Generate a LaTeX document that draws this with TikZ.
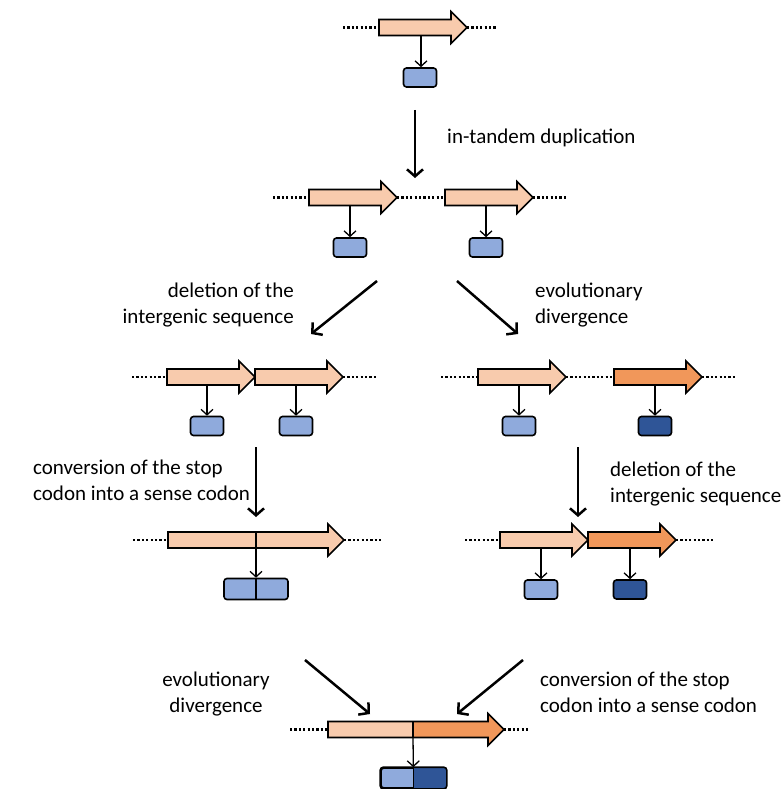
\documentclass[tikz,border=0pt]{standalone}
\usepackage{fontspec}
\setmainfont{Carlito}
\usetikzlibrary{arrows.meta}
\definecolor{peach}{HTML}{F8CBAD}
\definecolor{orng}{HTML}{F1975A}
\definecolor{lblue}{HTML}{8FAADC}
\definecolor{dblue}{HTML}{2F5597}
\tikzset{
  geneline/.style={draw=black, line width=1.6pt, line join=miter},
  dots/.style={line width=2.4pt, dash pattern=on 2.2pt off 2.2pt},
  prot/.style={draw=black, rounded corners=3pt, line width=1.6pt, minimum width=33pt, minimum height=19pt, inner sep=0pt, fill=lblue},
  dprot/.style={prot, fill=dblue},
  smallarr/.style={-{Straight Barb[length=5.5pt,width=12pt]}, line width=1.3pt},
  bigarr/.style={-{Straight Barb[length=7pt,width=16pt]}, line width=2.5pt},
  lab/.style={font=\fontsize{21}{26}\selectfont, inner sep=0pt, text=black}
}
% gene arrow: x0, yc, head base, tip, colour
\newcommand\genearrow[5]{%
  \filldraw[geneline, fill=#5] (#1,#2-8) -- (#3,#2-8) -- (#3,#2-16) -- (#4,#2) -- (#3,#2+16) -- (#3,#2+8) -- (#1,#2+8) -- cycle;}
\begin{document}
\begin{tikzpicture}[x=1pt,y=-1pt]
\useasboundingbox (0,0) rectangle (783,789);

% ---------- row 1
\draw[dots] (343,27.5) -- (379,27.5);
\draw[dots] (467,27.5) -- (497,27.5);
\genearrow{379}{27.5}{451}{467}{peach}
\coordinate (g1) at (421,35.5);
\node[prot] (p1) at (420,77.5) {};
\draw[smallarr] (g1) -- (p1.north -| g1);

% big arrow 1
\coordinate (a1s) at (415,110);
\coordinate (a1e) at (415,178);
\draw[bigarr] (a1s) -- (a1e);
\node[lab, anchor=north west] (l1) at (447,129) {in-tandem duplication};

% ---------- row 2
\draw[dots] (273,197.5) -- (309,197.5);
\draw[dots] (397,197.5) -- (445,197.5);
\draw[dots] (533,197.5) -- (567,197.5);
\genearrow{309}{197.5}{381}{397}{peach}
\genearrow{445}{197.5}{517}{533}{peach}
\coordinate (g2a) at (350,205.5);
\coordinate (g2b) at (486,205.5);
\node[prot] (p2a) at (350,247.5) {};
\node[prot] (p2b) at (486,247.5) {};
\draw[smallarr] (g2a) -- (p2a);
\draw[smallarr] (g2b) -- (p2b);

% big diagonal arrows
\coordinate (a2s) at (377,281);
\coordinate (a2e) at (311,334);
\draw[bigarr] (a2s) -- (a2e);
\coordinate (a3s) at (457,281);
\coordinate (a3e) at (518,334);
\draw[bigarr] (a3s) -- (a3e);
\node[lab, anchor=north east, align=right] (l2) at (294,283) {deletion of the\\intergenic sequence};
\node[lab, anchor=north west, align=left] (l3) at (535,283) {evolutionary\\divergence};

% ---------- row 3 left
\draw[dots] (132,377) -- (167,377);
\draw[dots] (343,377) -- (378,377);
\genearrow{167}{377}{239}{255}{peach}
\genearrow{255}{377}{327}{343}{peach}
\coordinate (g3a) at (207,385);
\coordinate (g3b) at (296,385);
\node[prot] (p3a) at (207,426) {};
\node[prot] (p3b) at (296,426) {};
\draw[smallarr] (g3a) -- (p3a);
\draw[smallarr] (g3b) -- (p3b);

% ---------- row 3 right
\draw[dots] (441,377) -- (478,377);
\draw[dots] (566,377) -- (614,377);
\draw[dots] (702,377) -- (735,377);
\genearrow{478}{377}{550}{566}{peach}
\genearrow{614}{377}{686}{702}{orng}
\coordinate (g3c) at (519,385);
\coordinate (g3d) at (655,385);
\node[prot] (p3c) at (519,426) {};
\node[dprot] (p3d) at (655,426) {};
\draw[smallarr] (g3c) -- (p3c);
\draw[smallarr] (g3d) -- (p3d);

% vertical arrows
\coordinate (a4s) at (256,447);
\coordinate (a4e) at (256,517);
\draw[bigarr] (a4s) -- (a4e);
\coordinate (a5s) at (578,447);
\coordinate (a5e) at (578,517);
\draw[bigarr] (a5s) -- (a5e);
\node[lab, anchor=north west, align=left] (l4) at (33,460) {conversion of the stop\\codon into a sense codon};
\node[lab, anchor=north west, align=left] (l5) at (610,462) {deletion of the\\intergenic sequence};

% ---------- row 4 left (fused)
\draw[dots] (133,540) -- (168,540);
\draw[dots] (344,540) -- (383,540);
\genearrow{168}{540}{328}{344}{peach}
\draw[line width=1.6pt] (256,532) -- (256,548);
\coordinate (g4a) at (256,548);
\node[prot, minimum width=64pt, minimum height=21pt] (p4a) at (256,589) {};
\draw[line width=1.6pt] (p4a.north) -- (p4a.south);
\draw[smallarr] (g4a) -- (p4a);

% ---------- row 4 right
\draw[dots] (465,540) -- (500,540);
\draw[dots] (676,540) -- (715,540);
\genearrow{500}{540}{572}{588}{peach}
\genearrow{588}{540}{660}{676}{orng}
\coordinate (g4b) at (541,548);
\coordinate (g4c) at (630,548);
\node[prot] (p4b) at (541,589.5) {};
\node[dprot] (p4c) at (630,589.5) {};
\draw[smallarr] (g4b) -- (p4b);
\draw[smallarr] (g4c) -- (p4c);

% bottom diagonal arrows
\coordinate (a6s) at (305,660);
\coordinate (a6e) at (370,714);
\draw[bigarr] (a6s) -- (a6e);
\coordinate (a7s) at (523,660);
\coordinate (a7e) at (457,714);
\draw[bigarr] (a7s) -- (a7e);
\node[lab, anchor=north, align=center] (l6) at (216,672) {evolutionary\\divergence};
\node[lab, anchor=north west, align=left] (l7) at (540,672) {conversion of the stop\\codon into a sense codon};

% ---------- row 5
\draw[dots] (290,729.5) -- (328,729.5);
\draw[dots] (504,729.5) -- (530,729.5);
\fill[peach] (328,721.5) rectangle (413,737.5);
\fill[orng] (413,721.5) -- (488,721.5) -- (488,713.5) -- (504,729.5) -- (488,745.5) -- (488,737.5) -- (413,737.5) -- cycle;
\draw[geneline] (328,721.5) -- (488,721.5) -- (488,713.5) -- (504,729.5) -- (488,745.5) -- (488,737.5) -- (328,737.5) -- cycle;
\draw[line width=1.6pt] (413,721.5) -- (413,737.5);
\coordinate (g5) at (413,737.5);
\node[prot, minimum width=65pt, minimum height=20pt] (p5) at (413.5,778) {};
\begin{scope}
  \clip[rounded corners=3pt] (p5.south west) rectangle (p5.north east);
  \fill[dblue] (413.5,760) rectangle (450,795);
\end{scope}
\draw[line width=1.6pt, rounded corners=3pt] (p5.south west) rectangle (p5.north east);
\draw[line width=1.6pt] (p5.north) -- (p5.south);
\draw[smallarr] (g5) -- (p5);
\end{tikzpicture}
\end{document}
